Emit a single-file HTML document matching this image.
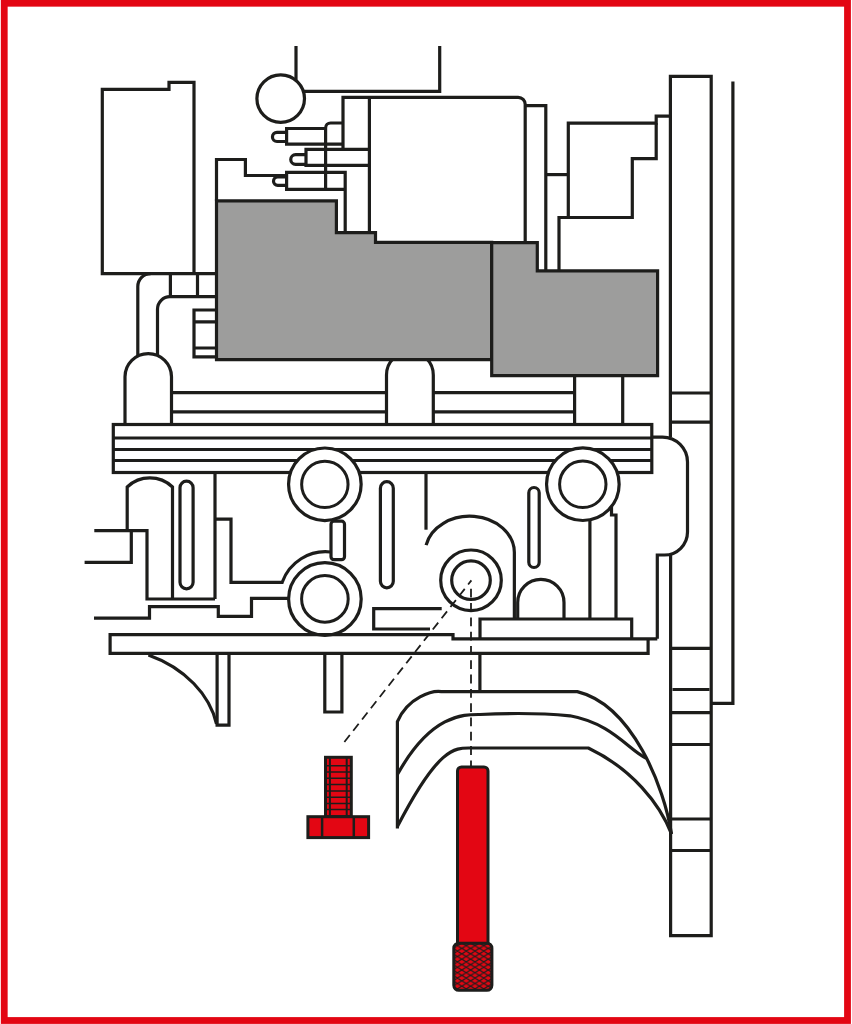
<!DOCTYPE html>
<html><head><meta charset="utf-8">
<style>
html,body{margin:0;padding:0;background:#fff;}
body{width:852px;height:1024px;overflow:hidden;font-family:"Liberation Sans",sans-serif;}
svg{display:block;}
</style></head>
<body>
<svg width="852" height="1024" viewBox="0 0 852 1024">
<defs>
<pattern id="knurl" patternUnits="userSpaceOnUse" width="8.8" height="5.4" x="453" y="943">
<rect width="8.8" height="5.4" fill="#e30613"/>
<path d="M0,0 L8.8,5.4 M0,5.4 L8.8,0 M-4.4,2.7 L0,5.4 M4.4,-2.7 L13.2,2.7" stroke="#1d1d1b" stroke-width="1.25" fill="none"/>
</pattern>
</defs>
<rect x="0" y="0" width="852" height="1024" fill="#fff"/>
<g fill="none" stroke="#1d1d1b" stroke-width="3.2" stroke-linejoin="miter" stroke-linecap="butt">

<!-- left tall box -->
<path d="M216.5,273.6 H102.3 V89.3 H169 V82.3 H194 V273.6"/>

<!-- shape above gray box left -->
<path d="M216.5,200.8 V159.5 H245.4 V175.5 H286.6"/>

<!-- circle and top lines -->
<circle cx="280.7" cy="98.6" r="23.8"/>
<path d="M296,46 V80.8"/>
<path d="M303.6,91.4 H439.7 V46"/>

<!-- big rect behind pins -->
<path d="M343,149.3 V97.3 H518.2 A7,7 0 0 1 525.2,104.3 V242.5"/>
<path d="M369.4,97.3 V232.6"/>

<!-- pins -->
<path d="M325.6,189 V128 A5,5 0 0 1 330.6,123 H343"/>
<path d="M343,144.1 H286.6 V128.5 H325.6"/>
<path d="M286.6,132.4 H277 A4.55,4.55 0 0 0 277,141.5 H286.6"/>
<path d="M369.4,149.4 H306 V165.4 H369.4"/>
<path d="M306,154.6 H295.6 A4.85,4.85 0 0 0 295.6,164.3 H306"/>
<path d="M345.2,232.6 V172.3 H286.6 V189.3 H345.2"/>
<path d="M286.6,177 H277.7 A4.2,4.2 0 0 0 277.7,185.4 H286.6"/>

<!-- right top structure -->
<path d="M525.2,105.6 H545.8 V270.7"/>
<path d="M545.8,174.6 H568.3"/>
<path d="M568.3,217.5 V123.2 H656.2 V116.2 H670"/>
<path d="M656.2,123.2 V158.6 H632.3 V217.5 H559 V271"/>

<!-- tall rect -->
<path d="M670.4,437.1 V76.4 H711.2 V935.6 H670.6 V555"/>
<path d="M732.9,81.4 V703.4 H711.2"/>
<path d="M670.4,393 H711.2 M670.4,422.1 H711.2 M670.6,648.3 H711.2 M672.5,689.5 H709.5 M670.6,712.6 H711.2 M670.6,744.5 H711.2 M670.6,819 H711.2 M670.6,850.5 H711.2"/>

<!-- left pipe area -->
<path d="M150.7,273.6 A12.9,12.9 0 0 0 137.8,286.5 V356"/>
<path d="M170.4,273.6 V296.6 M197.5,273.6 V296.6"/>
<path d="M216.5,296.6 H170 A12.5,12.5 0 0 0 157.5,309.1 V355.5"/>
<path d="M216.5,310 H194 V356.9 H216.5 M194,321.8 H216.5 M194,348 H216.5"/>

<!-- dome 1 -->
<path d="M125,424.7 V376.85 A23.25,23.25 0 0 1 171.5,376.85 V424.7"/>
<!-- dome 2 -->
<path d="M386.5,424.7 V375 A23.4,23.4 0 0 1 433.3,375 V424.7"/>
<!-- horizontal lines between domes -->
<path d="M171.5,392.7 H386.5 M171.5,411.8 H386.5 M433.3,392.6 H574.6 M433.3,411.8 H574.6"/>
<path d="M574.6,375.6 V424.7 M622.7,375.6 V424.7"/>
</g>

<!-- gray boxes -->
<g fill="#9d9d9c" stroke="#1d1d1b" stroke-width="3.2" stroke-linejoin="miter">
<path d="M216.5,359.6 V200.8 H336.4 V232.6 H375.5 V242.4 H491.7 V359.6 Z"/>
<path d="M491.7,242.6 H537.3 V270.9 H657.6 V375.6 H491.7 Z"/>
</g>

<g fill="none" stroke="#1d1d1b" stroke-width="3.2" stroke-linejoin="miter" stroke-linecap="butt">
<!-- rail -->
<rect x="113.3" y="424.5" width="538.5" height="48" fill="#fff"/>
<path d="M113.3,438 H651.8 M113.3,449.4 H651.8 M113.3,460.6 H651.8" stroke-width="3"/>
<!-- rounded right shape -->
<path d="M651.8,437.1 H662.5 A25,25 0 0 1 687.5,462.1 V532 A23,23 0 0 1 664.5,555 H657.3 V638.8"/>

<!-- below rail left -->
<path d="M127.2,530.7 V487 A32.9,32.9 0 0 1 172.5,487 V599"/>
<path d="M94.3,530.7 H147 V599 H215"/>
<path d="M84.6,562.4 H131.3 V530.7"/>
<rect x="180" y="481.1" width="13.1" height="107.8" rx="6.55"/>
<path d="M215,472.5 V599"/>
<path d="M215,519.2 H231 V582.3 H282.2 A46,46 0 0 1 330.5,552"/>
<path d="M94,618.1 H149.5 V606.7 H218.3 V616.4 H251.5 V598.3 H290"/>

<!-- connector rect between circles -->
<rect x="331" y="521.2" width="13.5" height="38.5" rx="3"/>

<!-- circles -->
<circle cx="324.85" cy="484.3" r="36.3" fill="#fff"/>
<circle cx="324.85" cy="484.4" r="23.2" stroke-width="3"/>
<circle cx="324.9" cy="599" r="36.3" fill="#fff"/>
<circle cx="324.9" cy="598.9" r="23.3" stroke-width="3"/>

<rect x="380.4" y="481.7" width="12.9" height="106.1" rx="6.45"/>
<path d="M426,474 V529.7"/>
<path d="M426.1,545.2 A44.59,36.31 0 0 1 514.36,552.36 V619"/>
<circle cx="471" cy="580.3" r="30.3"/>
<circle cx="471" cy="580.2" r="19.3"/>
<path d="M441.7,608.6 H373.7 V629 H430"/>
<rect x="528.8" y="487.5" width="10.4" height="80" rx="5.2"/>

<circle cx="582.85" cy="484.2" r="36.3" fill="#fff"/>
<circle cx="582.8" cy="484.3" r="23.2" stroke-width="3"/>
<path d="M589.9,520 V619"/>
<path d="M611.5,506 V515 H616 V619"/>
<path d="M517.7,619 V602.4 A23.15,23.15 0 0 1 564,602.4 V619"/>
<path d="M480,638.9 V619 H631.7 V638.9"/>

<!-- base plate -->
<path d="M657.3,638.8 H453 V634.7 H110.1 V653.4 H648.1 V638.8"/>
<path d="M148.4,655 C185,668 210,695 216.5,724"/>
<path d="M217.1,653.4 V725.1 H229 V653.4"/>
<path d="M324.8,653.4 V712 H341.9 V653.4"/>
<path d="M479.9,653.4 V692"/>

<!-- lower arcs -->
<path d="M397.4,828.5 V721.7 C407.8,697  432.8,690.3 441.3,691.6 H577.3 C632.4,705.1 664.5,787.8 671.5,834"/>
<path d="M397.4,774.6 C431.5,712.9 465.1,714.5 480,714.5 Q530,712 570,715.8 C612.4,723.5 629,750.5 646.2,758.2"/>
<path d="M397.4,826.6 C440,744 456,748 471.8,748 H588.3 C631.9,768.8 660.1,804 671.5,834"/>

<!-- dashed -->
<path d="M471.4,580.4 L343.7,742.8" stroke-width="1.8" stroke-dasharray="8.8,5.5" stroke-dashoffset="3.5"/>
<path d="M471,588.8 V766" stroke-width="1.8" stroke-dasharray="8.8,5.5"/>
</g>

<!-- red bolt -->
<g stroke="#1d1d1b" stroke-width="3">
<rect x="325.5" y="757.3" width="25.8" height="59.4" fill="#e30613"/>
<path d="M329.9,757.3 V816.7 M346.7,757.3 V816.7" stroke-width="2" fill="none"/>
<path d="M325.5,765.8 H351.3 M325.5,772 H351.3 M325.5,778.3 H351.3 M325.5,784.6 H351.3 M325.5,790.9 H351.3 M325.5,797.2 H351.3 M325.5,803.4 H351.3 M325.5,809.6 H351.3" stroke-width="1.5" fill="none"/>
<rect x="307.9" y="816.7" width="60.7" height="20.9" fill="#e30613"/>
<path d="M322.1,816.7 V837.6 M353.8,816.7 V837.6" stroke-width="2.5" fill="none"/>
</g>

<!-- red pin -->
<g stroke="#1d1d1b" stroke-width="3">
<path d="M457.5,943.2 V771 A4,4 0 0 1 461.5,767 H484 A4,4 0 0 1 488,771 V943.2" fill="#e30613"/>
<rect x="453.8" y="943.2" width="38.1" height="47.1" rx="5" fill="url(#knurl)"/>
</g>

<!-- red border -->
<rect x="4.25" y="3.25" width="843.25" height="1017.25" fill="none" stroke="#e30613" stroke-width="6.8"/>
</svg>
</body></html>
